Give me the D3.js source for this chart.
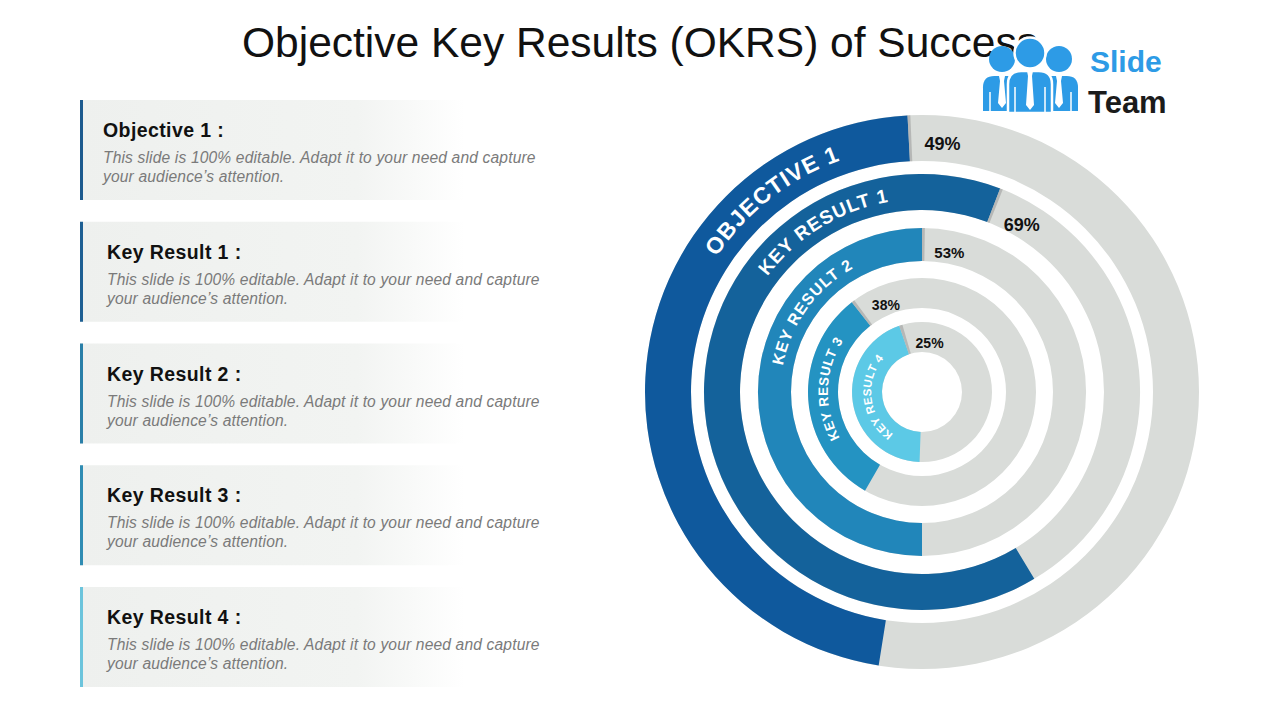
<!DOCTYPE html>
<html><head><meta charset="utf-8">
<script src="https://cdn.jsdelivr.net/npm/d3@7"></script>
<style>
html,body{margin:0;padding:0;background:#fff;}
svg{display:block;font-family:"Liberation Sans",Arial,sans-serif;}
</style>
</head><body>
<svg id="c" width="1280" height="720"></svg>
<script>
// ---------------- data ----------------
const titleText = "Objective Key Results (OKRS) of Success";
const categories = ["Objective 1 :", "Key Result 1 :", "Key Result 2 :", "Key Result 3 :", "Key Result 4 :"];
const descLine1 = "This slide is 100% editable. Adapt it to your need and capture";
const descLine2 = "your audience\u2019s attention.";
const ringLabels = ["OBJECTIVE 1", "KEY RESULT 1", "KEY RESULT 2", "KEY RESULT 3", "KEY RESULT 4"];
const percentValues = [49, 69, 53, 38, 25];
// filled arc (degrees, 0 = 12 o'clock, clockwise positive)
const fillStartDeg = [-3, 21, 0, -38, -19];
const fillEndDeg = [-171, -211, -180, -150, -178];
const ringColors = ["#0f599d", "#14629b", "#2186ba", "#2493c2", "#5cc9e6"];
const barColors = ["#1d5a8e", "#1e5f93", "#2a7fa8", "#2f8cb3", "#6cc4dc"];

// ---------------- layout ----------------
const svg = d3.select("#c");
const cx = 922, cy = 392;
const ringR = [[231, 277], [182, 218], [131, 164], [84, 114], [40, 70]];
const labelFont = [{s:23,w:"bold",ls:1,c:-38},{s:19,w:"bold",ls:1,c:-31.5},{s:16,w:"bold",ls:1,c:-54},{s:13.5,w:"bold",ls:0.6,c:-88},{s:11.5,w:"bold",ls:0.4,c:-97}];
const pctFont = [18, 18, 15, 14, 14];
const grey = "#d9dcd9";
const rad = d3.scaleLinear().domain([0, 360]).range([0, 2 * Math.PI]);

const defs = svg.append("defs");
const grad = defs.append("linearGradient").attr("id", "boxg").attr("x1", 0).attr("x2", 1).attr("y1", 0).attr("y2", 0);
grad.append("stop").attr("offset", "0%").attr("stop-color", "#eef0ee");
grad.append("stop").attr("offset", "72%").attr("stop-color", "#f2f4f2");
grad.append("stop").attr("offset", "100%").attr("stop-color", "#ffffff");

// title
svg.append("text").attr("x", 640).attr("y", 57).attr("text-anchor", "middle")
  .attr("font-size", 42.5).attr("fill", "#111").text(titleText);

// left boxes
const yBox = d3.scaleLinear().domain([0, 4]).range([100, 587]);
categories.forEach((cat, i) => {
  const y0 = yBox(i);
  const g = svg.append("g");
  g.append("rect").attr("x", 80).attr("y", y0).attr("width", 385).attr("height", 100).attr("fill", "url(#boxg)");
  g.append("rect").attr("x", 80).attr("y", y0).attr("width", 3).attr("height", 100).attr("fill", barColors[i]);
  const tx = i === 0 ? 103 : 107;
  g.append("text").attr("x", tx).attr("y", y0 + 37).attr("font-size", 19.5).attr("letter-spacing", 0.4).attr("font-weight", "bold").attr("fill", "#111").text(cat);
  g.append("text").attr("x", tx).attr("y", y0 + 63).attr("font-size", 15.6).attr("letter-spacing", 0.15).attr("font-style", "italic").attr("fill", "#7a7a7a").text(descLine1);
  g.append("text").attr("x", tx).attr("y", y0 + 82).attr("font-size", 15.6).attr("letter-spacing", 0.15).attr("font-style", "italic").attr("fill", "#7a7a7a").text(descLine2);
});

// rings
const gr = svg.append("g").attr("transform", `translate(${cx},${cy})`);
const arc = d3.arc();
function arcPath(r, a0, a1) {
  const p = a => [r * Math.sin(rad(a)), -r * Math.cos(rad(a))];
  const large = (a1 - a0) > 180 ? 1 : 0;
  return `M${p(a0)}A${r},${r} 0 ${large} 1 ${p(a1)}`;
}
ringLabels.forEach((lab, i) => {
  const [ri, ro] = ringR[i];
  const rm = (ri + ro) / 2;
  gr.append("path").attr("d", arc({innerRadius: ri, outerRadius: ro, startAngle: 0, endAngle: 2 * Math.PI})).attr("fill", grey);
  gr.append("path").attr("d", arc({innerRadius: ri, outerRadius: ro, startAngle: rad(fillEndDeg[i]), endAngle: rad(fillStartDeg[i])})).attr("fill", ringColors[i]);
  // small shadow at the grey start
  const sh = 2.6 / rm * 360 / (2 * Math.PI);
  gr.append("path").attr("d", arc({innerRadius: ri, outerRadius: ro, startAngle: rad(fillStartDeg[i]), endAngle: rad(fillStartDeg[i] + sh)})).attr("fill", "#a9aba9").attr("opacity", 0.75);
  // curved ring label
  const f = labelFont[i];
  const rb = rm - 0.36 * f.s;
  gr.append("path").attr("id", "lp" + i).attr("d", arcPath(rb, f.c - 90, f.c + 90)).attr("fill", "none");
  gr.append("text").attr("font-size", f.s).attr("font-weight", f.w).attr("fill", "#fff").attr("letter-spacing", f.ls)
    .append("textPath").attr("href", "#lp" + i).attr("startOffset", "50%").attr("text-anchor", "middle").text(lab);
  // percent label
  const off = 1.9 * pctFont[i];
  const a = fillStartDeg[i] + off / rm * 180 / Math.PI;
  const rl = rm - 5;
  gr.append("text").attr("x", rl * Math.sin(rad(a))).attr("y", -rl * Math.cos(rad(a)))
    .attr("text-anchor", "middle").attr("dominant-baseline", "central")
    .attr("font-size", pctFont[i]).attr("font-weight", "bold").attr("fill", "#111").text(percentValues[i] + "%");
});

// logo
const lg = svg.append("g");
const blue = "#2d9be6";
function person(x, yHead, rHead, yTop, yBot, halfW, stroke) {
  const g = lg.append("g");
  const cr = halfW * 0.6;
  const body = `M${x - halfW},${yBot} L${x - halfW},${yTop + cr} Q${x - halfW},${yTop} ${x - halfW + cr},${yTop} L${x + halfW - cr},${yTop} Q${x + halfW},${yTop} ${x + halfW},${yTop + cr} L${x + halfW},${yBot} Z`;
  g.append("path").attr("d", body).attr("fill", blue).attr("stroke", stroke ? "#fff" : "none").attr("stroke-width", 2.5);
  g.append("circle").attr("cx", x).attr("cy", yHead).attr("r", rHead).attr("fill", blue).attr("stroke", stroke ? "#fff" : "none").attr("stroke-width", 2.5);
  g.append("path").attr("d", `M${x - 3},${yTop} L${x + 3},${yTop} L${x + 2},${yTop + 5} L${x + 4},${yBot - 8} L${x},${yBot - 3} L${x - 4},${yBot - 8} L${x - 2},${yTop + 5} Z`).attr("fill", "#fff");
  g.append("line").attr("x1", x - halfW + 7).attr("x2", x - halfW + 7).attr("y1", yTop + 16).attr("y2", yBot).attr("stroke", "#fff").attr("stroke-width", 1.5);
  g.append("line").attr("x1", x + halfW - 7).attr("x2", x + halfW - 7).attr("y1", yTop + 16).attr("y2", yBot).attr("stroke", "#fff").attr("stroke-width", 1.5);
}
person(1002, 59, 13, 76, 111, 19, false);
person(1059, 59, 13, 76, 111, 19, false);
person(1030, 53, 15.5, 71, 113, 22, true);
svg.append("text").attr("x", 1090).attr("y", 72).attr("font-size", 30).attr("font-weight", "bold").attr("fill", blue).text("Slide");
svg.append("text").attr("x", 1088).attr("y", 113).attr("font-size", 31).attr("font-weight", "bold").attr("fill", "#1b1b1b").text("Team");
</script>
</body></html>
